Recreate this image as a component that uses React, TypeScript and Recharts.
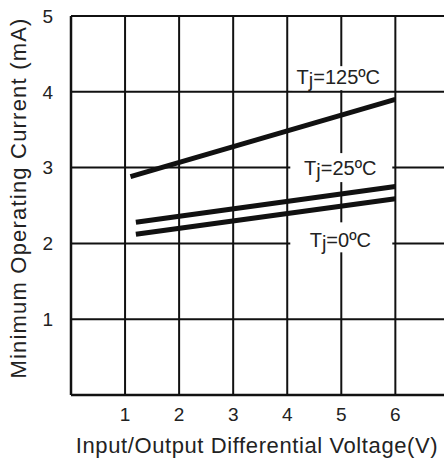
import { LineChart, Line, XAxis, YAxis, CartesianGrid, ReferenceDot, Label } from 'recharts'

// Minimum operating current vs input/output differential voltage
const v125 = [1.1, 6]
const i125 = [2.88, 3.9]
const v25 = [1.2, 6]
const i25 = [2.28, 2.75]
const v0 = [1.2, 6]
const i0 = [2.12, 2.59]

const xTicks = [0, 1, 2, 3, 4, 5, 6]
const yTicks = [0, 1, 2, 3, 4, 5]

// label boxes sit on the grid, white background hides the grid lines behind them
const tempLabels = [
  { x: 5.0, y: 4.18, text: '125ºC', w: 98, h: 24, dx: -3, dy: 6 },
  { x: 5.0, y: 3.0, text: '25ºC', w: 102, h: 29, dx: -1, dy: 7.5 },
  { x: 5.0, y: 2.08, text: '0ºC', w: 102, h: 30, dx: -1, dy: 10 },
]

const toPoints = (vs: number[], is: number[]) => vs.map((v, k) => ({ v, i: is[k] }))

const series = [
  { key: 't125', data: toPoints(v125, i125) },
  { key: 't25', data: toPoints(v25, i25) },
  { key: 't0', data: toPoints(v0, i0) },
]

const font = 'Liberation Sans, Arial, sans-serif'

function TempLabel(props: any) {
  const { cx, cy, payload } = props
  const a = payload
  return (
    <g>
      <rect x={cx - a.w / 2} y={cy - a.h / 2} width={a.w} height={a.h} fill="#fff" />
      <text x={cx + a.dx} y={cy + a.dy} textAnchor="middle" fontFamily={font} fontSize={20} fill="#222">
        T<tspan dy={3}>j</tspan><tspan dy={-3}>={a.text}</tspan>
      </text>
    </g>
  )
}

export default function App() {
  return (
    <div style={{ position: 'absolute', left: 0, top: 0, width: 444, height: 463, background: '#fff' }}>
      <LineChart width={444} height={463} margin={{ top: 16, right: 0, left: 0, bottom: 0 }}>
        <CartesianGrid stroke="#111" strokeWidth={2} horizontalValues={[1, 2, 3, 4, 5]} verticalValues={[1, 2, 3, 4, 5, 6]} />
        <XAxis
          type="number"
          dataKey="v"
          domain={[0, 6.9]}
          ticks={xTicks}
          tickFormatter={(t: any) => (t === 0 ? '' : String(t))}
          axisLine={{ stroke: '#111', strokeWidth: 2.5 }}
          tickLine={false}
          tickMargin={7}
          height={68}
          tick={{ fill: '#222', fontSize: 19, fontFamily: font }}
          allowDataOverflow
        >
          <Label
            content={({ viewBox }: any) => (
              <text x={257} y={viewBox.y + 58} textAnchor="middle" fontFamily={font} fontSize={22} letterSpacing={0.6} fill="#222">
                Input/Output Differential Voltage(V)
              </text>
            )}
          />
        </XAxis>
        <YAxis
          type="number"
          domain={[0, 5]}
          ticks={yTicks}
          tickFormatter={(t: any) => (t === 0 ? '' : String(t))}
          axisLine={{ stroke: '#111', strokeWidth: 2.5 }}
          tickLine={false}
          tickMargin={12}
          width={71}
          tick={{ fill: '#222', fontSize: 19, fontFamily: font }}
        >
          <Label
            content={() => (
              <text x={26} y={198} transform="rotate(-90 26 198)" textAnchor="middle" fontFamily={font} fontSize={22} letterSpacing={1.2} fill="#222">
                Minimum Operating Current (mA)
              </text>
            )}
          />
        </YAxis>
        {series.map((s) => (
          <Line
            key={s.key}
            data={s.data}
            dataKey="i"
            type="linear"
            stroke="#111"
            strokeWidth={5}
            dot={false}
            activeDot={false}
            isAnimationActive={false}
          />
        ))}
        {tempLabels.map((a) => (
          <ReferenceDot key={a.text} x={a.x} y={a.y} r={0} shape={(p: any) => <TempLabel {...p} payload={a} />} />
        ))}
      </LineChart>
    </div>
  )
}
